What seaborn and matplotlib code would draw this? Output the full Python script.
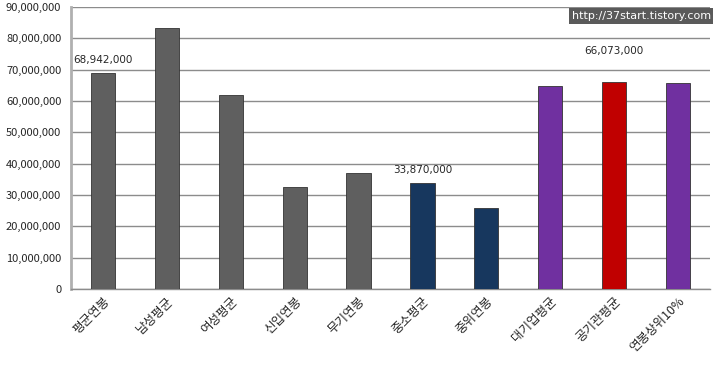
import matplotlib
matplotlib.use("Agg")
import matplotlib.pyplot as plt
import seaborn as sns
import pandas as pd
import numpy as np
from matplotlib.ticker import FuncFormatter, FixedLocator

# --- data ---
categories = ["평균연봉", "남성평균", "여성평균", "신입연봉", "무기연봉",
              "중소평균", "중위연봉", "대기업평균", "공기관평균", "연봉상위10%"]
salaries = [68942000, 83300000, 61900000, 32600000, 36900000,
            33870000, 25800000, 64800000, 66073000, 65800000]
bar_colors = ["#5f5f5f", "#5f5f5f", "#5f5f5f", "#5f5f5f", "#5f5f5f",
              "#17375e", "#17375e", "#7030a0", "#c00000", "#7030a0"]
labeled = {"평균연봉": "68,942,000", "중소평균": "33,870,000", "공기관평균": "66,073,000"}

df = pd.DataFrame({"항목": categories, "연봉": salaries})

sns.set_style("white")
plt.rcParams['font.family'] = ['Noto Sans CJK KR', 'DejaVu Sans']

fig = plt.figure(figsize=(7.2, 3.65), dpi=100)
ax = fig.add_axes([71 / 720, 1 - 289 / 365, 639 / 720, 282 / 365])

sns.barplot(data=df, x="항목", y="연봉", hue="항목",
            palette=bar_colors, legend=False, width=0.38, saturation=1,
            edgecolor="#333333", linewidth=0.6, ax=ax, zorder=3)

ax.set_ylim(0, 90000000)
ax.set_xlim(-0.5, len(categories) - 0.5)
ax.set_yticks(np.arange(0, 90000001, 10000000))
ax.yaxis.set_major_formatter(FuncFormatter(lambda v, p: f"{int(v):,}"))
ax.grid(axis="y", color="#8c8c8c", linewidth=1, zorder=0)
ax.set_axisbelow(True)
ax.set_xlabel("")
ax.set_ylabel("")

for s in ["top", "right"]:
    ax.spines[s].set_visible(False)
ax.spines["left"].set_color("#b0b0b0")
ax.spines["left"].set_linewidth(2)
ax.spines["bottom"].set_color("#8c8c8c")
ax.spines["bottom"].set_linewidth(1)

ax.tick_params(axis="y", length=4, color="#b0b0b0", labelsize=8, pad=3)
ax.tick_params(axis="x", which="major", length=0, labelsize=9, pad=4)
ax.xaxis.set_minor_locator(FixedLocator(np.arange(-0.5, len(categories), 1)))
ax.tick_params(axis="x", which="minor", length=4, color="#8c8c8c")
plt.setp(ax.get_xticklabels(), rotation=45, ha="right", rotation_mode="anchor")

# value labels
for i, cat in enumerate(categories):
    if cat in labeled:
        offset = 8300000 if cat == "공기관평균" else 2500000
        ax.text(i, salaries[i] + offset, labeled[cat], ha="center", va="bottom", fontsize=7.5,
                family=['DejaVu Sans'])

# watermark
fig.text(0.987, 0.956, "http://37start.tistory.com", ha="right", va="center",
         fontsize=8, color="white", family=['DejaVu Sans'],
         bbox=dict(boxstyle="square,pad=0.25", fc="#5a5a5a", ec="none"))

fig.savefig("out.png", dpi=100)
